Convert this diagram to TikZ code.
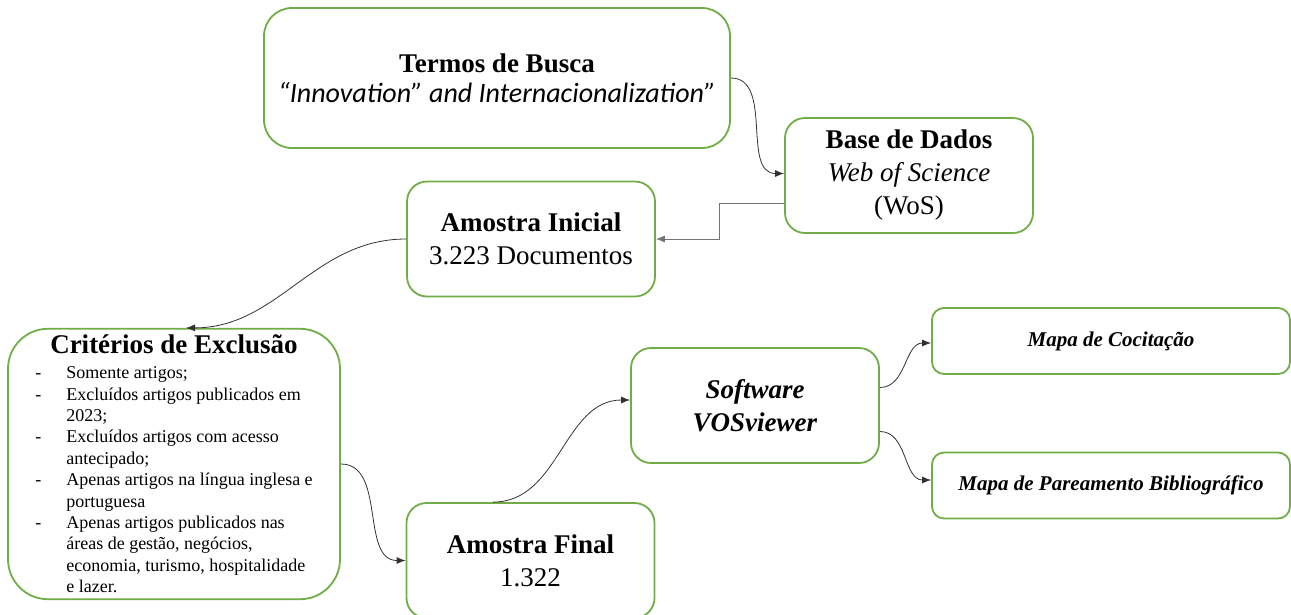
\documentclass[tikz,border=0pt]{standalone}
\usepackage{fontspec}
\setmainfont{Liberation Serif}
\newfontfamily\calibrifont{Carlito}
\usetikzlibrary{arrows.meta,positioning}
\definecolor{boxgreen}{RGB}{112,173,71}
\definecolor{linkgray}{RGB}{50,50,50}
\definecolor{orthogray}{RGB}{115,115,115}

\begin{document}
\begin{tikzpicture}[x=1pt, y=-1pt,
    box/.style={draw=boxgreen, line width=1.8pt, rounded corners=20pt, fill=white, align=center, inner sep=0pt, minimum width=248pt, minimum height=115pt, font=\fontsize{27}{33}\selectfont},
    mapbox/.style={box, rounded corners=12pt, minimum width=358pt, minimum height=66pt, font=\fontsize{21}{25}\selectfont\bfseries\itshape},
    arr/.style={-{Latex[length=9pt,width=7pt]}, draw=linkgray, line width=0.8pt}]
    \useasboundingbox (0,0) rectangle (1291,614);
    % caixas
    \node[box, rounded corners=28pt, minimum width=466pt, minimum height=140pt] (termos) at (497,78) {\textbf{Termos de Busca}\\[-3pt]{\calibrifont\itshape\fontsize{28}{33}\selectfont “Innovation” and Internacionalization”}};
    \node[box] (base) at (909,175.5) {\textbf{Base de Dados}\\\textit{Web of Science}\\(WoS)};
    \node[box] (ini) at (531,239) {\textbf{Amostra Inicial}\\3.223 Documentos};
    \node[box, rounded corners=40pt, minimum width=332pt, minimum height=268pt, font=\fontsize{18}{21.4}\selectfont] (crit) at (174,464) {%
      \begin{tabular}{@{}p{31pt}@{}l@{}}
        \multicolumn{2}{@{}c@{}}{\rule{0pt}{25pt}\fontsize{27}{21.4}\selectfont\bfseries Critérios de Exclusão}\\[3.6pt]
        - & Somente artigos;\\
        - & Excluídos artigos publicados em\\
          & 2023;\\
        - & Excluídos artigos com acesso\\
          & antecipado;\\
        - & Apenas artigos na língua inglesa e\\
          & portuguesa\\
        - & Apenas artigos publicados nas\\
          & áreas de gestão, negócios,\\
          & economia, turismo, hospitalidade\\
          & e lazer.
      \end{tabular}};
    \node[box] (fin) at (530.5,560.5) {\textbf{Amostra Final}\\1.322};
    \node[box] (soft) at (755,405.5) {\textbf{\textit{Software}}\\\textbf{\textit{VOSviewer}}};
    \node[mapbox] (coc) at (1111,341) {Mapa de Cocitação};
    \node[mapbox] (par) at (1111,485.5) {Mapa de Pareamento Bibliográfico};
    % ligacoes
    \draw[arr] (termos.east) to[out=0, in=180] ([yshift=2pt]base.west);
    \draw[arr, draw=orthogray] ([yshift=-28pt]base.west) -- ++(-65,0) |- (ini.east);
    \draw[arr] (ini.west) to[out=180, in=0] ([xshift=12pt]crit.north);
    \draw[arr] (crit.east) to[out=0, in=180] (fin.west);
    \draw[arr] ([xshift=-37.5pt]fin.north) to[out=0, in=180] ([yshift=5.5pt]soft.west);
    \draw[arr] ([yshift=18pt]soft.east) to[out=0, in=180] ([yshift=-2pt]coc.west);
    \draw[arr] ([yshift=-26pt]soft.east) to[out=0, in=180] ([yshift=5.5pt]par.west);
  \end{tikzpicture}
\end{document}
